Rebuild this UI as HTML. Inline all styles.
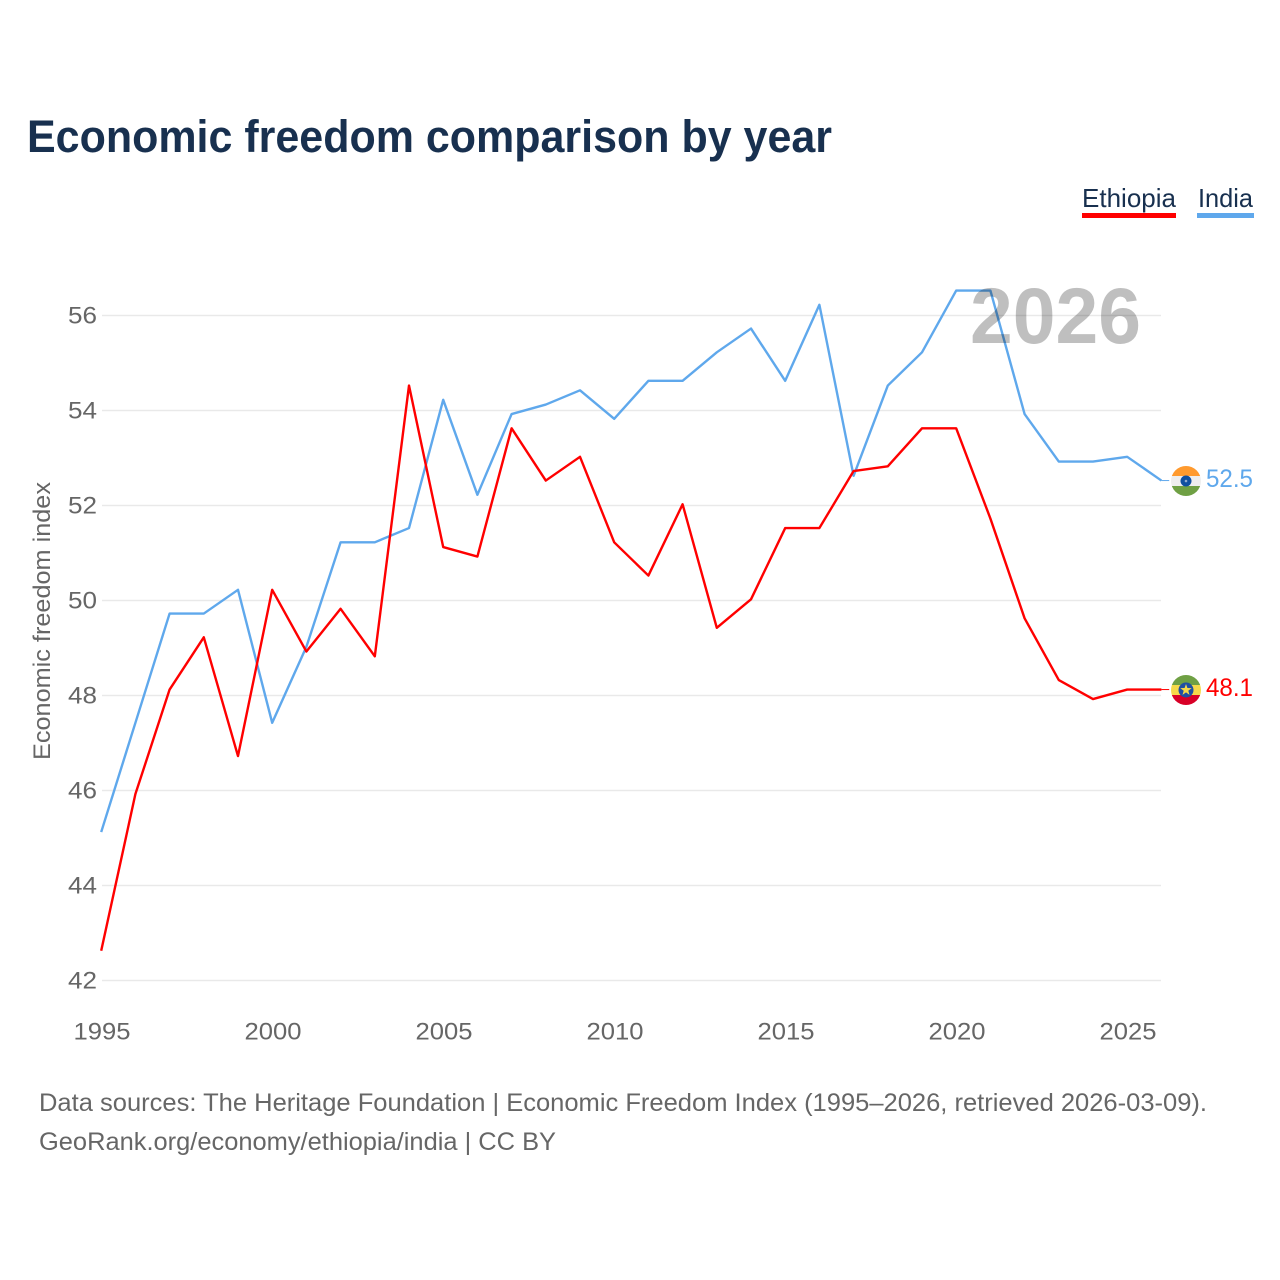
<!DOCTYPE html>
<html lang="en">
<head>
<meta charset="utf-8">
<title>Economic freedom comparison by year</title>
<style>
html,body{margin:0;padding:0;background:#fff}
svg{display:block;font-family:"Liberation Sans",sans-serif}
</style>
</head>
<body>
<svg id="chart" xmlns="http://www.w3.org/2000/svg" width="1280" height="1280" viewBox="0 0 1280 1280">
  <rect width="1280" height="1280" fill="#fff"/>
  <defs>
    <clipPath id="clip-in"><circle cx="1186" cy="481" r="15"/></clipPath>
    <clipPath id="clip-et"><circle cx="1186" cy="690" r="15"/></clipPath>
  </defs>
  <text x="27" y="152" font-size="45" font-weight="700" fill="#18304f" textLength="805" lengthAdjust="spacingAndGlyphs">Economic freedom comparison by year</text>

  <g id="grid"></g>
  <g id="y-ticks"></g>
  <g id="x-ticks"></g>
  <text transform="translate(50,760) rotate(-90)" font-size="24" fill="#666" textLength="278" lengthAdjust="spacingAndGlyphs">Economic freedom index</text>
  <g id="series" transform="translate(-0.8,-1.2)"></g>
  <text x="970" y="343" font-size="79" font-weight="700" fill="#000" fill-opacity="0.25" textLength="171" lengthAdjust="spacingAndGlyphs">2026</text>

  <g>
    <g>
      <text x="1082" y="207" font-size="26" fill="#18304f" textLength="94" lengthAdjust="spacingAndGlyphs">Ethiopia</text>
      <rect x="1082" y="213" width="94" height="5" fill="#ff0000"/>
    </g>
    <g>
      <text x="1198" y="207" font-size="26" fill="#18304f" textLength="55" lengthAdjust="spacingAndGlyphs">India</text>
      <rect x="1197" y="213" width="57" height="5" fill="#5fa8ec"/>
    </g>
  </g>

  <g clip-path="url(#clip-in)">
    <rect x="1171" y="466" width="30" height="10" fill="#ff9a2e"/>
    <rect x="1171" y="476" width="30" height="10" fill="#eeeeee"/>
    <rect x="1171" y="486" width="30" height="10" fill="#6fa044"/>
    <circle cx="1186" cy="481" r="5.5" fill="#0f4fa0"/>
    <circle cx="1186" cy="481" r="1.3" fill="#8fa9d0"/>
  </g>
  <g clip-path="url(#clip-et)">
    <rect x="1171" y="675" width="30" height="10" fill="#6fa044"/>
    <rect x="1171" y="685" width="30" height="10" fill="#f6d94a"/>
    <rect x="1171" y="695" width="30" height="10" fill="#d80027"/>
    <circle cx="1186" cy="690" r="7.5" fill="#1f4fa3"/>
    <polygon points="1186,684 1187.4,688 1191.7,688.1 1188.3,690.7 1189.5,694.9 1186,692.4 1182.5,694.9 1183.7,690.7 1180.3,688.1 1184.6,688" fill="#f6d94a"/>
  </g>
  <text x="1206" y="487" font-size="25" fill="#5fa8ec" textLength="47" lengthAdjust="spacingAndGlyphs">52.5</text>
  <text x="1206" y="696" font-size="25" fill="#ff0000" textLength="47" lengthAdjust="spacingAndGlyphs">48.1</text>

  <text x="39" y="1111" font-size="25" fill="#666" textLength="1168" lengthAdjust="spacingAndGlyphs">Data sources: The Heritage Foundation | Economic Freedom Index (1995–2026, retrieved 2026-03-09).</text>
  <text x="39" y="1150" font-size="25" fill="#666" textLength="517" lengthAdjust="spacingAndGlyphs">GeoRank.org/economy/ethiopia/india | CC BY</text>
</svg>
<script>
const years = [1995,1996,1997,1998,1999,2000,2001,2002,2003,2004,2005,2006,2007,2008,2009,2010,2011,2012,2013,2014,2015,2016,2017,2018,2019,2020,2021,2022,2023,2024,2025,2026];
const ethiopiaValues = [42.6,45.9,48.1,49.2,46.7,50.2,48.9,49.8,48.8,54.5,51.1,50.9,53.6,52.5,53.0,51.2,50.5,52.0,49.4,50.0,51.5,51.5,52.7,52.8,53.6,53.6,51.7,49.6,48.3,47.9,48.1,48.1];
const indiaValues = [45.1,47.4,49.7,49.7,50.2,47.4,49.0,51.2,51.2,51.5,54.2,52.2,53.9,54.1,54.4,53.8,54.6,54.6,55.2,55.7,54.6,56.2,52.6,54.5,55.2,56.5,56.5,53.9,52.9,52.9,53.0,52.5];
const yTickValues = [42,44,46,48,50,52,54,56];
const xTickValues = [1995,2000,2005,2010,2015,2020,2025];

const NS = 'http://www.w3.org/2000/svg';
function xScale(year) { return 102 + (year - 1995) * 34.2; }
function yScale(value) { return 980.5 - (value - 42) * 47.5; }

const gridGroup = document.getElementById('grid');
const yGroup = document.getElementById('y-ticks');
const xGroup = document.getElementById('x-ticks');
const seriesGroup = document.getElementById('series');

yTickValues.forEach(function (v) {
  const line = document.createElementNS(NS, 'line');
  
  
  line.setAttribute('x1', 102);
  line.setAttribute('x2', 1161);
  line.setAttribute('y1', yScale(v));
  line.setAttribute('y2', yScale(v));
  line.setAttribute('stroke', '#e9e9e9');
  line.setAttribute('stroke-width', 1.5);
  gridGroup.appendChild(line);

  const label = document.createElementNS(NS, 'text');
  
  
  label.setAttribute('x', 68);
  label.setAttribute('y', yScale(v) + 8);
  label.setAttribute('font-size', 24);
  label.setAttribute('fill', '#666');
  label.setAttribute('textLength', 29);
  label.setAttribute('lengthAdjust', 'spacingAndGlyphs');
  label.textContent = String(v);
  yGroup.appendChild(label);
});

xTickValues.forEach(function (y) {
  const label = document.createElementNS(NS, 'text');
  
  
  label.setAttribute('x', xScale(y) - 28.5);
  label.setAttribute('y', 1039.5);
  label.setAttribute('font-size', 24);
  label.setAttribute('fill', '#666');
  label.setAttribute('textLength', 57);
  label.setAttribute('lengthAdjust', 'spacingAndGlyphs');
  label.textContent = String(y);
  xGroup.appendChild(label);
});

function drawSeries(values, color, name) {
  const pts = years.map(function (yr, i) { return xScale(yr) + ',' + yScale(values[i]); }).join(' ');
  const poly = document.createElementNS(NS, 'polyline');
  
  
  poly.setAttribute('points', pts);
  poly.setAttribute('fill', 'none');
  poly.setAttribute('stroke', color);
  poly.setAttribute('stroke-width', 2.4);
  poly.setAttribute('stroke-linejoin', 'round');
  seriesGroup.appendChild(poly);

  const last = values[values.length - 1];
  const connector = document.createElementNS(NS, 'line');
  
  
  connector.setAttribute('x1', xScale(years[years.length - 1]));
  connector.setAttribute('x2', 1170);
  connector.setAttribute('y1', yScale(last));
  connector.setAttribute('y2', yScale(last));
  connector.setAttribute('stroke', color);
  connector.setAttribute('stroke-width', 1);
  seriesGroup.appendChild(connector);
}
drawSeries(indiaValues, '#5fa8ec', 'india-line');
drawSeries(ethiopiaValues, '#ff0000', 'ethiopia-line');
</script>
</body>
</html>
